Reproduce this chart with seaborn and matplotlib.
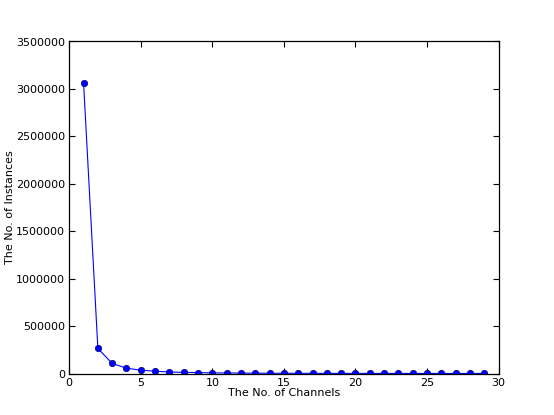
import numpy as np
import pandas as pd
import seaborn as sns
import matplotlib
matplotlib.use("Agg")
import matplotlib.pyplot as plt

channels = list(range(1, 30))
instances = [3063000, 264000, 106000, 56000, 35000, 24000, 16000, 12000, 9000, 7000,
             5500, 4500, 3500, 3000, 2500, 2000, 1700, 1400, 1200, 1000,
             900, 800, 700, 600, 500, 450, 400, 350, 300]

df = pd.DataFrame({"channels": channels, "instances": instances})

sns.set_style("white")
plt.rcParams["font.family"] = ["DejaVu Sans"]
plt.rcParams["font.size"] = 8
plt.rcParams["text.color"] = "black"
plt.rcParams["axes.labelcolor"] = "black"

fig = plt.figure(figsize=(5.54, 4.15), dpi=100)
ax = fig.add_axes([0.125, 0.1, 0.775, 0.8])
sns.lineplot(data=df, x="channels", y="instances", ax=ax, color="#0000ff",
             marker="o", markersize=4.6, markeredgecolor="#000080", markeredgewidth=0.5,
             linewidth=0.8)

ax.set_xlim(0, 30)
ax.set_ylim(0, 3500000)
ax.set_xticks(range(0, 31, 5))
ax.set_yticks(range(0, 3500001, 500000))
ax.set_yticklabels([str(v) for v in range(0, 3500001, 500000)])
ax.tick_params(direction="in", length=4, width=0.8, top=True, right=True,
               bottom=True, left=True, labelsize=8, pad=3, colors="black")
for s in ax.spines.values():
    s.set_color("black")
    s.set_linewidth(0.9)
ax.set_xlabel("The No. of Channels", fontsize=8, labelpad=0, color="black")
ax.set_ylabel("The No. of Instances", fontsize=8, labelpad=1, color="black")

fig.savefig("out.png", dpi=100)
